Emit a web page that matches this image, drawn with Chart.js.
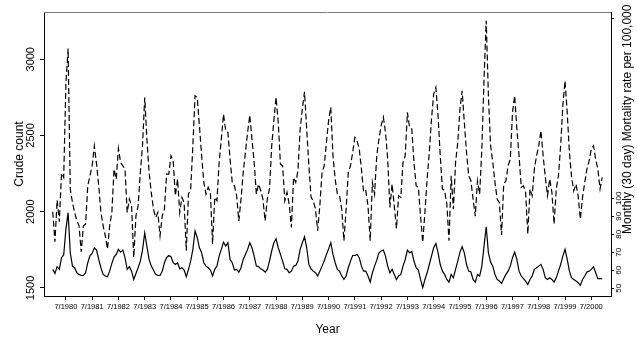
<!DOCTYPE html>
<html>
<head>
<meta charset="utf-8">
<script src="https://cdn.jsdelivr.net/npm/chart.js@4/dist/chart.umd.min.js"></script>
<style>
  html, body { margin: 0; padding: 0; background: #fff; }
  #wrap { width: 637px; height: 337px; }
</style>
</head>
<body>
<div id="wrap"><canvas id="c" width="637" height="337"></canvas></div>
<script>
// Monthly series, January 1980 .. December 2000 (index 0 = 1/1980)
const crudeCount = [
  2000,1803,2076,1934,2251,2225,2837,3071,2148,2061,1995,1940,
  1908,1737,1908,1919,2170,2236,2301,2432,2312,2170,1995,1908,
  1842,1755,1908,1995,2280,2214,2415,2323,2301,2280,1995,2083,
  2039,1700,1973,2039,2258,2432,2749,2477,2258,2127,2017,1962,
  1995,1842,1973,2017,2247,2247,2367,2334,2105,2214,1995,2094,
  2061,1744,2116,2149,2433,2761,2750,2564,2367,2192,2116,2160,
  2127,1788,2094,2072,2323,2476,2640,2531,2520,2345,2192,2170,
  2105,1940,2083,2258,2389,2520,2634,2476,2323,2116,2181,2138,
  2083,1940,2083,2149,2430,2600,2750,2586,2312,2301,2072,2127,
  2050,1897,2225,2192,2269,2542,2673,2787,2542,2301,2094,2072,
  2017,1875,2039,2258,2301,2454,2597,2685,2367,2214,2116,2105,
  2017,1810,2017,2258,2301,2389,2487,2465,2411,2280,2127,2138,
  2039,1810,2192,2116,2367,2476,2564,2620,2520,2345,2028,2181,
  2039,1890,2105,2094,2323,2367,2651,2553,2542,2323,2170,2160,
  1973,1799,1995,2214,2389,2608,2771,2815,2630,2367,2149,2138,
  2050,1810,2236,2017,2323,2454,2673,2793,2586,2389,2236,2203,
  2083,1970,2203,2116,2411,2870,3253,2761,2433,2323,2192,2083,
  2061,1847,2181,2203,2301,2345,2651,2761,2542,2367,2160,2170,
  2127,1854,2149,2105,2280,2367,2433,2531,2367,2225,2105,2214,
  2127,1919,2149,2236,2433,2695,2859,2651,2389,2225,2138,2181,
  2105,1951,2094,2192,2280,2334,2411,2433,2345,2280,2149,2225
];
const mortalityRate = [
  60.5,58.2,62.0,60.5,67.0,68.5,82.7,92.0,69.7,62.3,61.4,58.6,
  57.7,57.1,57.1,58.6,64.2,68.2,69.4,72.5,71.2,66.0,61.4,57.7,
  56.8,56.4,59.5,63.8,67.3,68.8,71.6,70.1,71.2,67.0,60.5,62.0,
  59.5,54.9,58.2,61.4,65.1,71.2,80.8,73.4,66.0,62.3,60.1,57.7,
  57.1,57.1,59.5,64.2,67.0,68.2,67.5,64.2,63.2,64.2,60.8,61.4,
  60.1,56.4,60.5,65.1,71.6,81.8,78.1,72.5,69.7,64.2,62.3,61.4,
  60.1,56.8,60.5,62.3,67.9,71.6,75.6,73.4,75.3,66.0,64.2,60.1,
  60.5,59.0,61.4,66.0,68.8,71.6,75.3,72.5,67.9,62.3,62.0,60.8,
  60.1,59.0,60.5,65.1,70.7,75.3,77.5,72.5,68.8,65.1,60.8,60.5,
  58.6,59.5,62.3,62.7,65.1,71.6,75.3,78.6,72.5,63.2,60.8,59.5,
  58.6,56.8,59.5,62.3,65.1,68.8,71.9,75.3,68.8,64.2,60.5,59.5,
  56.8,54.9,56.8,61.4,65.1,68.2,68.2,68.8,67.0,62.3,59.5,59.5,
  56.8,53.4,58.6,62.3,65.6,69.7,70.7,71.2,67.9,62.3,58.6,60.5,
  57.7,54.9,56.8,57.7,62.3,66.0,71.2,69.7,70.4,65.1,61.4,60.1,
  54.9,50.3,54.9,58.6,63.2,67.9,72.5,74.9,69.7,63.2,59.5,57.7,
  54.9,53.4,57.7,55.8,60.5,65.1,70.1,73.1,69.7,63.2,59.5,59.0,
  54.9,53.4,57.7,56.8,62.3,73.4,84.2,69.7,64.5,62.3,57.7,54.9,
  54.0,52.7,55.3,57.7,59.5,62.3,67.0,70.1,66.0,59.5,56.8,55.3,
  54.0,52.1,54.9,56.8,60.5,61.4,62.3,63.2,60.5,55.8,54.9,55.8,
  54.9,53.4,55.8,59.5,63.2,67.9,71.6,66.0,59.5,55.8,54.9,54.0,
  53.1,51.6,54.9,56.8,59.0,59.5,60.5,62.0,58.6,55.3,55.3,55.3
];
// x tick positions (month index, July of each year) and their labels
const xTickMonths = [6,18,30,42,54,66,78,90,102,114,126,138,150,162,174,186,198,210,222,234,246];
const xTickLabels = ['7/1980','7/1981','7/1982','7/1983','7/1984','7/1985','7/1986','7/1987','7/1988','7/1989','7/1990',
                     '7/1991','7/1992','7/1993','7/1994','7/1995','7/1996','7/1997','7/1998','7/1999','7/2000'];
const leftTicks = [1500, 2000, 2500, 3000];
const rightTicks = [50, 60, 70, 80, 90, 100, 200];
const rightTickLabels = ['50', '60', '70', '80', '90', '100', ''];
const xTitle = 'Year';
const leftTitle = 'Crude count';
const rightTitle = 'Monthly (30 day) Mortality rate per 100,000';

const FONT = '"Liberation Sans", Arial, Helvetica, sans-serif';

const framePlugin = {
  id: 'framePlugin',
  afterDraw(chart) {
    const { ctx, chartArea: a } = chart;
    ctx.save();
    ctx.strokeStyle = '#7a7a7a';
    ctx.lineWidth = 1;
    ctx.beginPath();
    ctx.moveTo(a.left, a.top + 0.5);
    ctx.lineTo(a.right, a.top + 0.5);
    ctx.stroke();
    ctx.fillStyle = '#000';
    ctx.font = '12px ' + FONT;
    ctx.translate(a.right + 17, 234);
    ctx.rotate(-Math.PI / 2);
    ctx.textAlign = 'left';
    ctx.textBaseline = 'middle';
    ctx.fillText(rightTitle, 0, 0);
    ctx.restore();
  }
};

new Chart(document.getElementById('c'), {
  type: 'line',
  data: {
    datasets: [
      {
        label: leftTitle,
        data: crudeCount.map((v, i) => ({ x: i, y: v })),
        yAxisID: 'y',
        borderColor: '#000',
        borderWidth: 1.2,
        borderDash: [6, 3],
        pointRadius: 0,
        tension: 0,
        fill: false
      },
      {
        label: rightTitle,
        data: mortalityRate.map((v, i) => ({ x: i, y: v })),
        yAxisID: 'y2',
        borderColor: '#000',
        borderWidth: 1.2,
        pointRadius: 0,
        tension: 0,
        fill: false
      }
    ]
  },
  options: {
    responsive: false,
    animation: false,
    events: [],
    layout: { padding: { left: 0, right: 0, top: 12, bottom: 0 } },
    plugins: { legend: { display: false }, tooltip: { enabled: false } },
    scales: {
      x: {
        type: 'linear',
        min: -4,
        max: 255,
        afterBuildTicks: s => { s.ticks = xTickMonths.map(v => ({ value: v })); },
        afterFit: s => { s.height = 41; },
        ticks: {
          autoSkip: false,
          maxRotation: 0,
          minRotation: 0,
          padding: 2,
          color: '#000',
          font: { family: FONT, size: 7.5 },
          callback: v => { const k = xTickMonths.indexOf(v); return k >= 0 ? xTickLabels[k] : ''; }
        },
        grid: { drawOnChartArea: false, drawTicks: true, tickLength: 4, color: '#000' },
        border: { display: true, color: '#000', width: 1 },
        title: { display: true, text: xTitle, color: '#000', font: { family: FONT, size: 12 }, padding: { top: 0, bottom: 0 } }
      },
      y: {
        type: 'linear',
        position: 'left',
        min: 1447,
        max: 3310,
        afterBuildTicks: s => { s.ticks = leftTicks.map(v => ({ value: v })); },
        afterFit: s => { s.width = 44; },
        ticks: {
          autoSkip: false,
          minRotation: 90,
          maxRotation: 90,
          crossAlign: 'center',
          padding: -3,
          color: '#000',
          font: { family: FONT, size: 11 },
          callback: v => String(v)
        },
        grid: { drawOnChartArea: false, drawTicks: true, tickLength: 4, color: '#000' },
        border: { display: true, color: '#000', width: 1 },
        title: { display: true, text: leftTitle, color: '#000', font: { family: FONT, size: 12 }, padding: { top: 12, bottom: 0 } }
      },
      y2: {
        type: 'linear',
        position: 'right',
        min: 45.7,
        max: 203.5,
        afterBuildTicks: s => { s.ticks = rightTicks.map(v => ({ value: v })); },
        afterFit: s => { s.width = 26; },
        ticks: {
          autoSkip: false,
          minRotation: 90,
          maxRotation: 90,
          crossAlign: 'center',
          padding: -2,
          color: '#000',
          font: { family: FONT, size: 8 },
          callback: v => { const k = rightTicks.indexOf(v); return k >= 0 ? rightTickLabels[k] : ''; }
        },
        grid: { drawOnChartArea: false, drawTicks: true, tickLength: 3, color: '#000' },
        border: { display: true, color: '#000', width: 1 }
      }
    }
  },
  plugins: [framePlugin]
});
</script>
</body>
</html>
